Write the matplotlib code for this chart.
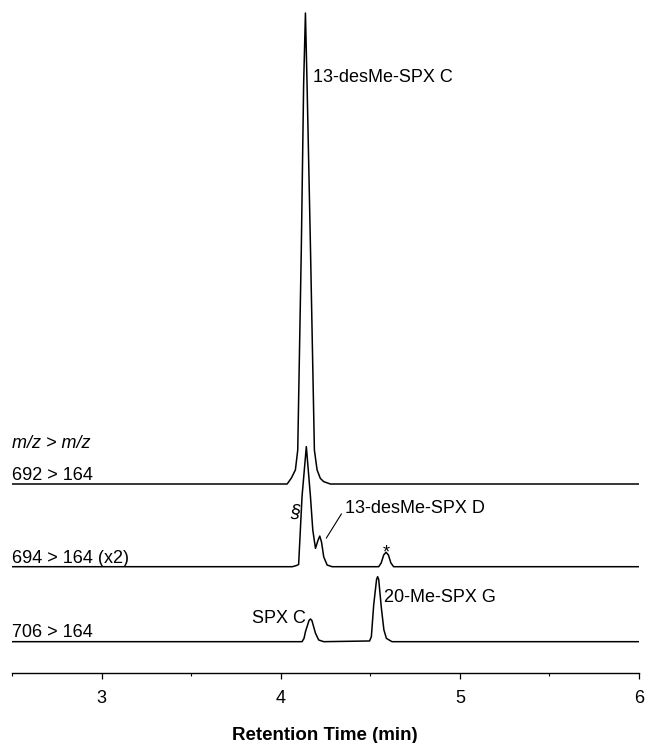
import matplotlib
matplotlib.use("Agg")
import matplotlib.pyplot as plt
from matplotlib.ticker import MultipleLocator

plt.rcParams['font.family'] = ['Liberation Sans', 'DejaVu Sans']

# ---- data (retention time in min, relative intensity; trace 2 shown x2) ----
t_692 = [2.50, 4.036, 4.060, 4.082, 4.095, 4.115, 4.128, 4.138, 4.147, 4.166,
         4.188, 4.203, 4.221, 4.240, 4.277, 6.00]
i_692 = [0.0, 0.0, 1.3, 3.0, 7.2, 50.0, 85.0, 100.0, 85.0, 50.3,
         7.2, 3.0, 1.2, 0.5, 0.0, 0.0]

t_694 = [2.50, 4.065, 4.088, 4.100, 4.119, 4.143, 4.166, 4.179, 4.194, 4.208,
         4.218, 4.228, 4.240, 4.259, 4.287, 4.547, 4.561, 4.575, 4.588, 4.601,
         4.615, 4.630, 6.00]
i_694 = [0.0, 0.0, 0.25, 0.47, 14.9, 25.5, 14.9, 7.8, 3.9, 5.6,
         6.5, 5.2, 2.1, 0.36, 0.0, 0.0, 0.8, 2.5, 3.06, 2.5,
         0.8, 0.0, 0.0]

t_706 = [2.50, 4.119, 4.130, 4.138, 4.158, 4.166, 4.174, 4.194, 4.212, 4.240,
         4.496, 4.506, 4.519, 4.535, 4.541, 4.547, 4.562, 4.576, 4.590, 4.621, 6.00]
i_706 = [0.0, 0.0, 0.7, 2.1, 4.5, 4.82, 4.5, 1.8, 0.36, 0.0,
         0.15, 1.06, 7.8, 13.2, 13.8, 13.2, 7.1, 2.5, 0.7, 0.0, 0.0]

offsets = [40.13, 22.57, 6.65]
channel_labels = ["692 > 164", "694 > 164 (x2)", "706 > 164"]
x_ticks = [3, 4, 5, 6]

fig = plt.figure(figsize=(6.45, 7.43), dpi=100)
ax = fig.add_axes([12/645, 1 - 673/743, (639 - 12)/645, 673/743])

for t, i, off in zip([t_692, t_694, t_706], [i_692, i_694, i_706], offsets):
    ax.plot(t, [v + off for v in i], color='black', lw=1.1, solid_joinstyle='round')

ax.set_xlim(2.5, 6.0)
ax.set_ylim(0, 142.9)
for s in ['left', 'top', 'right']:
    ax.spines[s].set_visible(False)
ax.spines['bottom'].set_linewidth(1.0)
ax.set_yticks([])
ax.set_xticks(x_ticks)
ax.xaxis.set_minor_locator(MultipleLocator(0.5))
ax.tick_params(axis='x', which='major', direction='out', length=4, width=0.9,
               labelsize=13, pad=8)
ax.tick_params(axis='x', which='minor', direction='out', length=2.5, width=0.8)

fs = 13
# channel labels
ax.text(2.5, 47.8, "m/z > m/z", style='italic', fontsize=fs, ha='left', va='baseline')
for lab, yb in zip(channel_labels, [40.98, 23.29, 7.71]):
    ax.text(2.5, yb, lab, fontsize=fs, ha='left', va='baseline')

# peak annotations
ax.text(4.178, 125.5, "13-desMe-SPX C", fontsize=fs, ha='left', va='baseline')
ax.text(4.082, 33.25, "§", style='italic', fontsize=fs, ha='center', va='baseline')
ax.text(4.361, 33.9, "13-desMe-SPX D", fontsize=fs, ha='left', va='baseline')
ax.plot([4.3385, 4.2549], [33.76, 28.66], color='black', lw=0.8)
ax.text(4.588, 24.6, "*", fontsize=fs, ha='center', va='baseline')
ax.text(4.578, 15.14, "20-Me-SPX G", fontsize=fs, ha='left', va='baseline')
ax.text(4.138, 10.68, "SPX C", fontsize=fs, ha='right', va='baseline')

fig.text(325/645, (743 - 740)/743, "Retention Time (min)", fontsize=13.5,
         fontweight='bold', ha='center', va='baseline')

fig.savefig("out.png", dpi=100)
